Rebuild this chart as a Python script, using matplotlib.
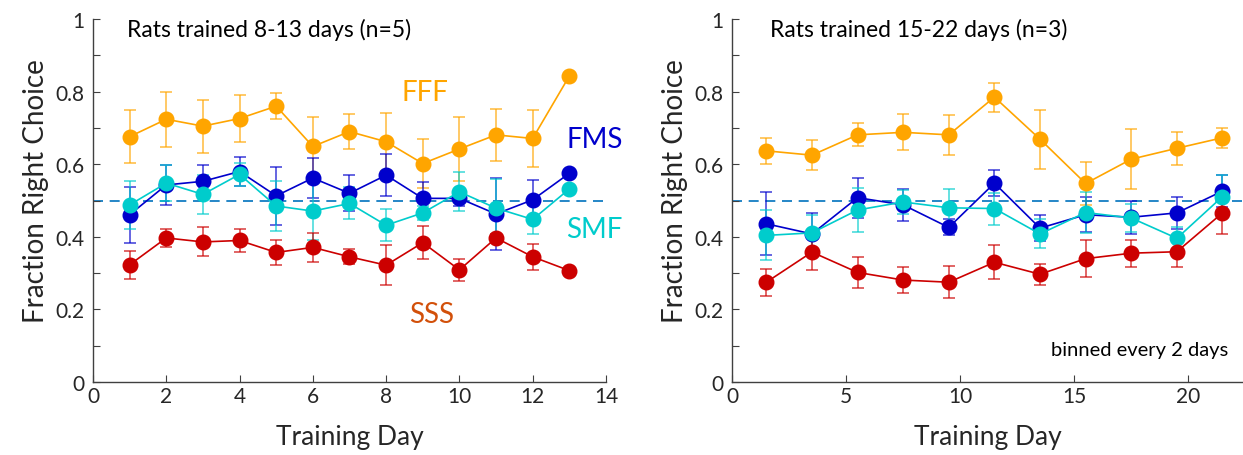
import numpy as np
import matplotlib.pyplot as plt

plt.rcParams['font.family'] = ['Lato', 'DejaVu Sans']

# left panel: rats trained 8-13 days, one point per day
days_a = [1, 2, 3, 4, 5, 6, 7, 8, 9, 10, 11, 12, 13]
fff_a = [0.676, 0.724, 0.705, 0.726, 0.760, 0.649, 0.690, 0.662, 0.602, 0.642, 0.681, 0.671, 0.843]
fff_a_err = [0.073, 0.076, 0.073, 0.064, 0.035, 0.080, 0.048, 0.080, 0.067, 0.087, 0.072, 0.078, 0.0]
fms_a = [0.461, 0.543, 0.553, 0.580, 0.513, 0.562, 0.520, 0.570, 0.506, 0.506, 0.463, 0.502, 0.575]
fms_a_err = [0.077, 0.055, 0.045, 0.040, 0.080, 0.055, 0.050, 0.057, 0.045, 0.020, 0.100, 0.055, 0.0]
smf_a = [0.488, 0.548, 0.517, 0.572, 0.485, 0.471, 0.492, 0.432, 0.466, 0.524, 0.479, 0.448, 0.532]
smf_a_err = [0.066, 0.050, 0.053, 0.032, 0.070, 0.080, 0.044, 0.044, 0.020, 0.054, 0.080, 0.040, 0.0]
sss_a = [0.323, 0.397, 0.386, 0.390, 0.357, 0.371, 0.345, 0.322, 0.384, 0.309, 0.397, 0.345, 0.307]
sss_a_err = [0.038, 0.025, 0.040, 0.032, 0.035, 0.040, 0.021, 0.056, 0.046, 0.031, 0.012, 0.035, 0.0]

# right panel: rats trained 15-22 days, binned every 2 days
days_b = [1.5, 3.5, 5.5, 7.5, 9.5, 11.5, 13.5, 15.5, 17.5, 19.5, 21.5]
fff_b = [0.637, 0.625, 0.681, 0.688, 0.681, 0.785, 0.669, 0.547, 0.614, 0.644, 0.673]
fff_b_err = [0.035, 0.042, 0.032, 0.050, 0.055, 0.040, 0.081, 0.060, 0.082, 0.045, 0.028]
fms_b = [0.436, 0.408, 0.508, 0.488, 0.426, 0.548, 0.424, 0.461, 0.454, 0.466, 0.526]
fms_b_err = [0.087, 0.057, 0.055, 0.044, 0.022, 0.036, 0.035, 0.048, 0.045, 0.043, 0.044]
smf_b = [0.404, 0.411, 0.474, 0.496, 0.480, 0.478, 0.408, 0.467, 0.452, 0.396, 0.511]
smf_b_err = [0.069, 0.050, 0.061, 0.034, 0.052, 0.044, 0.040, 0.057, 0.039, 0.030, 0.060]
sss_b = [0.275, 0.358, 0.302, 0.281, 0.275, 0.330, 0.297, 0.340, 0.355, 0.359, 0.466]
sss_b_err = [0.037, 0.050, 0.043, 0.036, 0.044, 0.047, 0.029, 0.051, 0.037, 0.042, 0.057]

c_fff = '#FFA500'
c_fms = '#0000CC'
c_smf = '#00CCCC'
c_sss = '#CC0000'
c_dash = '#0072BD'
c_axis = '#404040'


def draw_series(ax, x, y, err, color):
    ax.errorbar(x, y, yerr=err, fmt='none', ecolor=color, alpha=0.7,
                elinewidth=1.2, capsize=4.5, capthick=1.2, zorder=2)
    ax.plot(x, y, '-o', color=color, lw=1.2, ms=10.5, zorder=3)


def style_axes(ax, xmax, xstep):
    ax.set_ylim(0, 1)
    ax.set_xlim(0, xmax)
    for s in ['top', 'right']:
        ax.spines[s].set_visible(False)
    for s in ['left', 'bottom']:
        ax.spines[s].set_color(c_axis)
        ax.spines[s].set_linewidth(1.0)
    ax.set_yticks(np.arange(0, 1.01, 0.1))
    ax.set_yticklabels(['0', '', '0.2', '', '0.4', '', '0.6', '', '0.8', '', '1'])
    ax.set_xticks(np.arange(0, xmax + 0.01, xstep))
    ax.tick_params(direction='in', length=5, width=0.8, color=c_axis,
                   labelsize=15, labelcolor='#262626')
    ax.tick_params(axis='y', pad=6)
    ax.tick_params(axis='x', pad=3)
    ax.set_ylabel('Fraction Right Choice', fontsize=20, color='#262626', labelpad=5)
    ax.yaxis.label.set_y(0.53)
    ax.set_xlabel('Training Day', fontsize=19, color='#262626', labelpad=13)
    ax.axhline(0.5, color=c_dash, ls=(0, (6, 4)), lw=1.2, zorder=1)


fig = plt.figure(figsize=(12.43, 4.56), dpi=100)
ax1 = fig.add_axes([0.0748, 0.160, 0.4127, 0.796])
ax2 = fig.add_axes([0.589, 0.160, 0.411, 0.796])

draw_series(ax1, days_a, fff_a, fff_a_err, c_fff)
draw_series(ax1, days_a, fms_a, fms_a_err, c_fms)
draw_series(ax1, days_a, smf_a, smf_a_err, c_smf)
draw_series(ax1, days_a, sss_a, sss_a_err, c_sss)
style_axes(ax1, 14, 2)
ax1.text(0.92, 0.972, 'Rats trained 8-13 days (n=5)', fontsize=16.5, va='center', ha='left')
ax1.text(9.05, 0.80, 'FFF', color=c_fff, fontsize=20, ha='center', va='center')
ax1.text(13.68, 0.669, 'FMS', color=c_fms, fontsize=20, ha='center', va='center')
ax1.text(13.68, 0.421, 'SMF', color=c_smf, fontsize=20, ha='center', va='center')
ax1.text(9.24, 0.187, 'SSS', color='#D2500A', fontsize=20, ha='center', va='center')

draw_series(ax2, days_b, fff_b, fff_b_err, c_fff)
draw_series(ax2, days_b, fms_b, fms_b_err, c_fms)
draw_series(ax2, days_b, smf_b, smf_b_err, c_smf)
draw_series(ax2, days_b, sss_b, sss_b_err, c_sss)
style_axes(ax2, 22.4, 5)
ax2.text(1.65, 0.972, 'Rats trained 15-22 days (n=3)', fontsize=16.5, va='center', ha='left')
ax2.text(21.75, 0.091, 'binned every 2 days', fontsize=14.5, va='center', ha='right')

fig.savefig('out.png', dpi=100)
